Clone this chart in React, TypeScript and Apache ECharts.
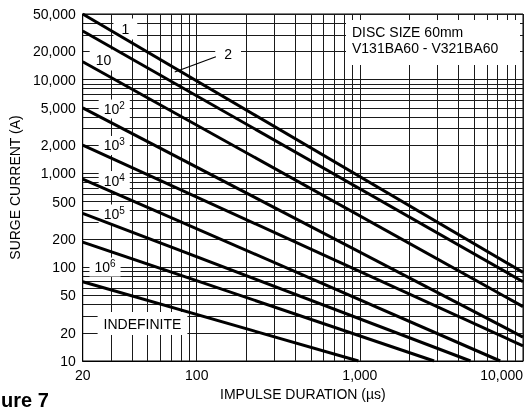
import React, { useEffect, useRef } from "react";
import * as echarts from "echarts";

const FONT = '"Liberation Sans", Arial, Helvetica, sans-serif';

// Axis ticks
const xLabelValues = [20, 100, 1000, 10000];
const xGridValues = [20, 30, 40, 50, 60, 70, 80, 90, 100, 200, 300, 400, 500, 600, 700, 800, 900, 1000, 2000, 3000, 4000, 5000, 6000, 7000, 8000, 9000, 10000];
const yLabelValues = [10, 20, 50, 100, 200, 500, 1000, 2000, 5000, 10000, 20000, 50000];
const yGridValues = [10, 20, 30, 40, 50, 60, 70, 80, 90, 100, 200, 300, 400, 500, 600, 700, 800, 900, 1000, 2000, 3000, 4000, 5000, 6000, 7000, 8000, 9000, 10000, 20000, 30000, 40000, 50000];

// Curves: [impulse duration µs, surge current A]
const curve1 = [[20, 50000], [10000, 88]];
const curve2 = [[20, 33000], [10000, 70]];
const curve10 = [[20, 15500], [10000, 38]];
const curve1e2 = [[20, 5000], [10000, 18]];
const curve1e3 = [[20, 2000], [10000, 14.5]];
const curve1e4 = [[20, 870], [7250, 10]];
const curve1e5 = [[20, 375], [4770, 10]];
const curve1e6 = [[20, 185], [2850, 10]];
const curveIndef = [[20, 70], [980, 10]];
const curves = [curve1, curve2, curve10, curve1e2, curve1e3, curve1e4, curve1e5, curve1e6, curveIndef];
const curveNames = ["1", "2", "10", "10^2", "10^3", "10^4", "10^5", "10^6", "INDEFINITE"];

// Curve label texts and anchor points (data space)
const labelTexts = ["{b|1}", "{b|2}", "{b|10}", "{b|10}{s|2}", "{b|10}{s|3}", "{b|10}{s|4}", "{b|10}{s|5}", "{b|10}{s|6}", "{b|INDEFINITE}"];
const labelAnchors = [[36.5, 34600], [155.7, 18730], [26.8, 16160], [31.2, 4854], [31.2, 1984], [31.2, 839], [31.2, 369], [27.4, 100.4], [46.5, 25.1]];
const labelPads = [[2, 8], [2, 9], [2, 6], [1, 5], [1, 5], [1, 5], [1, 5], [1, 5], [3, 6]];

// Arrow from label "2" to curve
const arrowFrom = [131, 17530];
const arrowTo = [73.3, 12040];

const titleLines = ["DISC SIZE 60mm", "V131BA60 - V321BA60"];
const xName = "IMPULSE DURATION (µs)";
const yName = "SURGE CURRENT (A)";
const figureCaption = "Figure 7";

const fmt = (v: number) => String(Math.round(v)).replace(/\B(?=(\d{3})+(?!\d))/g, ",");

export default function App() {
  const ref = useRef<HTMLDivElement>(null);
  useEffect(() => {
    if (!ref.current) return;
    const chart = echarts.init(ref.current, undefined, { renderer: "svg" });
    const rich = {
      b: { fontSize: 14, lineHeight: 17, color: "#000", fontFamily: FONT },
      s: { fontSize: 10, lineHeight: 10, color: "#000", fontFamily: FONT, verticalAlign: "top" },
    };
    const series: any[] = curves.map((c, i) => ({
      type: "line",
      name: curveNames[i],
      data: c,
      symbol: "none",
      z: 3,
      silent: true,
      lineStyle: { color: "#000", width: 3 },
      ...(i === 1
        ? {
            markLine: {
              silent: true,
              symbol: ["none", "arrow"],
              symbolSize: [0, 10],
              lineStyle: { color: "#000", width: 1.2, type: "solid" },
              label: { show: false },
              z: 4,
              data: [[{ coord: arrowFrom }, { coord: arrowTo }]],
            },
          }
        : {}),
    }));
    series.push({
      type: "scatter",
      z: 2,
      silent: true,
      symbol: "rect",
      symbolSize: 1,
      itemStyle: { color: "#fff", opacity: 1 },
      labelLayout: { hideOverlap: false },
      data: labelAnchors.map((a, i) => ({
        value: a,
        label: { formatter: labelTexts[i], padding: labelPads[i] },
      })),
      label: {
        show: true,
        position: "inside",
        backgroundColor: "#ffffff",
        color: "#000",
        opacity: 1,
        fontFamily: FONT,
        fontSize: 14,
        rich,
      },
    });
    chart.setOption({
      animation: false,
      grid: { left: 78, top: 14, width: 445, height: 347, show: true, borderColor: "#000", borderWidth: 1, backgroundColor: "transparent" },
      xAxis: {
        type: "log",
        logBase: 10,
        min: 20,
        max: 10000,
        name: xName,
        nameLocation: "middle",
        nameGap: 26,
        nameTextStyle: { fontFamily: FONT, fontSize: 14, color: "#000" },
        axisLine: { show: true, lineStyle: { color: "#000", width: 1 } },
        axisTick: { show: false, customValues: xGridValues },
        axisLabel: {
          customValues: xLabelValues,
          formatter: (v: number) => fmt(v),
          fontFamily: FONT,
          fontSize: 14,
          color: "#000",
          margin: 7,
          alignMaxLabel: "right",
        },
        splitLine: { show: true, lineStyle: { color: "#1a1a1a", width: 1 } },
        minorTick: { show: false },
        minorSplitLine: { show: false },
      },
      yAxis: {
        type: "log",
        logBase: 10,
        min: 10,
        max: 50000,
        name: yName,
        nameLocation: "middle",
        nameGap: 53,
        nameRotate: 90,
        nameTextStyle: { fontFamily: FONT, fontSize: 14, color: "#000" },
        axisLine: { show: true, lineStyle: { color: "#000", width: 1 } },
        axisTick: { show: false, customValues: yGridValues },
        axisLabel: {
          customValues: yLabelValues,
          formatter: (v: number) => fmt(v),
          fontFamily: FONT,
          fontSize: 14,
          color: "#000",
          margin: 7,
        },
        splitLine: { show: true, lineStyle: { color: "#1a1a1a", width: 1 } },
        minorTick: { show: false },
        minorSplitLine: { show: false },
      },
      graphic: [
        { type: "rect", z: 10, shape: { x: 346, y: 20, width: 174, height: 45 }, style: { fill: "#fff" } },
        { type: "text", z: 11, x: 352, y: 32, style: { text: titleLines[0], fontFamily: FONT, fontSize: 14, fill: "#000", align: "left", verticalAlign: "middle" } },
        { type: "text", z: 11, x: 352, y: 47.5, style: { text: titleLines[1], fontFamily: FONT, fontSize: 14, fill: "#000", align: "left", verticalAlign: "middle" } },
        { type: "text", z: 11, x: -29, y: 400, style: { text: figureCaption, fontFamily: FONT, fontSize: 20, fontWeight: "bold", fill: "#000", align: "left", verticalAlign: "middle" } },
      ],
      series,
    });
    return () => chart.dispose();
  }, []);
  return <div ref={ref} style={{ position: "fixed", left: 0, top: 0, width: 530, height: 408 }} />;
}
